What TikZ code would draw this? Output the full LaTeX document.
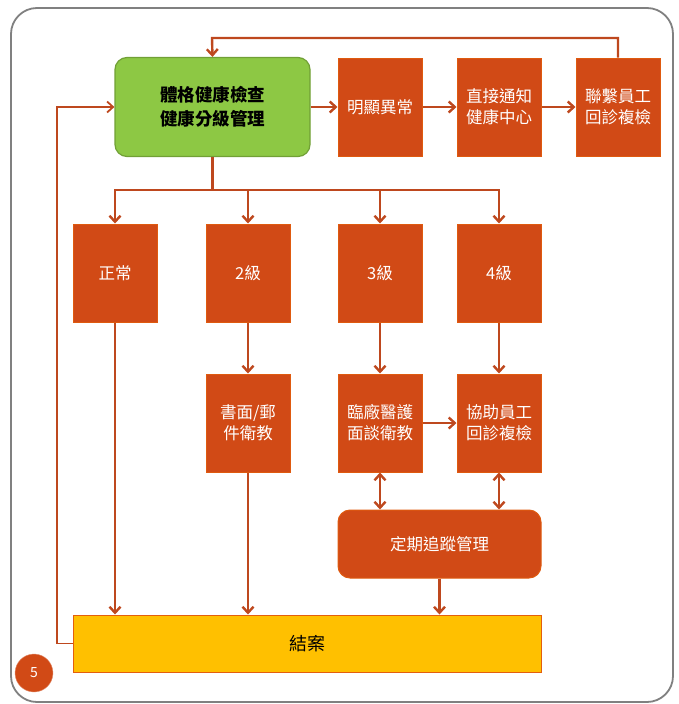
\documentclass[tikz,border=0pt]{standalone}
\usepackage{fontspec}
\setmainfont{Noto Sans CJK TC}
\usetikzlibrary{arrows.meta}
\definecolor{boxorange}{RGB}{209,74,22}
\definecolor{lineorange}{RGB}{190,72,30}
\definecolor{boxgreen}{RGB}{141,200,68}
\definecolor{boxyellow}{RGB}{255,192,0}
\tikzset{>={Straight Barb[length=6pt,width=11pt]}}
\tikzset{
  stepbox/.style={draw=boxorange!70!orange, fill=boxorange, text=white, line width=1pt,
    minimum width=84, minimum height=98, align=center, font=\fontsize{16.5}{21}\selectfont, inner sep=0pt},
  link/.style={draw=lineorange, line width=2.4pt},
}

\begin{document}
\begin{tikzpicture}[x=1pt,y=-1pt]
\useasboundingbox (0,0) rectangle (678,704);
\draw [color=gray, line width=1.8pt, rounded corners=26](11,8) rectangle (673,702);

% top row
\node [draw=boxgreen!80!black, fill=boxgreen, line width=1.2pt, rounded corners=12, minimum width=195, minimum height=99,
  align=center, font=\fontsize{17.5}{24}\selectfont\bfseries] (check) at (212.5,107) {體格健康檢查\\健康分級管理};
\node [stepbox] (abnormal) at (380,107) {明顯異常};
\node [stepbox] (notify) at (499,107) {直接通知\\健康中心};
\node [stepbox] (contact) at (618,107) {聯繫員工\\回診複檢};

% grades
\node [stepbox] (normal) at (115,273) {正常};
\node [stepbox] (grade2) at (248,273) {2級};
\node [stepbox] (grade3) at (380,273) {3級};
\node [stepbox] (grade4) at (499,273) {4級};

% follow up
\node [stepbox] (mail) at (248,423) {書面/郵\\件衛教};
\node [stepbox] (talk) at (380,423) {臨廠醫護\\面談衛教};
\node [stepbox] (assist) at (499,423) {協助員工\\回診複檢};
\node [stepbox, rounded corners=12, minimum width=203, minimum height=68] (track) at (439.5,544) {定期追蹤管理};
\node [draw=boxorange!60!orange, fill=boxyellow, line width=1pt, minimum width=468, minimum height=57,
  font=\fontsize{18}{22}\selectfont] (close) at (307,643.5) {結案};
\node [circle, fill=boxorange, draw=boxorange!60!white, text=white, minimum size=38, inner sep=0pt,
  font=\fontsize{14}{16}\selectfont] (page) at (34,673) {5};

\draw [link][->](check.east)--(abnormal.west);
\draw [link][->](abnormal.east)--(notify.west);
\draw [link][->](notify.east)--(contact.west);
\draw [link][->](contact.north)|-(212,38)--(check.north);

\draw [link](check.south)--++(0,33) coordinate (fork);
\draw [link][->](fork)-|(normal.north);
\draw [link][->](fork)-|(grade2.north);
\draw [link][->](fork)-|(grade3.north);
\draw [link][->](fork)-|(grade4.north);

\draw [link][->](grade2.south)--(mail.north);
\draw [link][->](grade3.south)--(talk.north);
\draw [link][->](grade4.south)--(assist.north);
\draw [link][->](talk.east)--(assist.west);
\draw [link][<->](talk.south)--(talk.south|-track.north);
\draw [link][<->](assist.south)--(assist.south|-track.north);

\draw [link][->](normal.south)--(normal.south|-close.north);
\draw [link][->](mail.south)--(mail.south|-close.north);
\draw [link][->](track.south)--(track.south|-close.north);
\draw [link, line width=1.8pt][->](close.west)-|(57,107)--(check.west);
\end{tikzpicture}
\end{document}
